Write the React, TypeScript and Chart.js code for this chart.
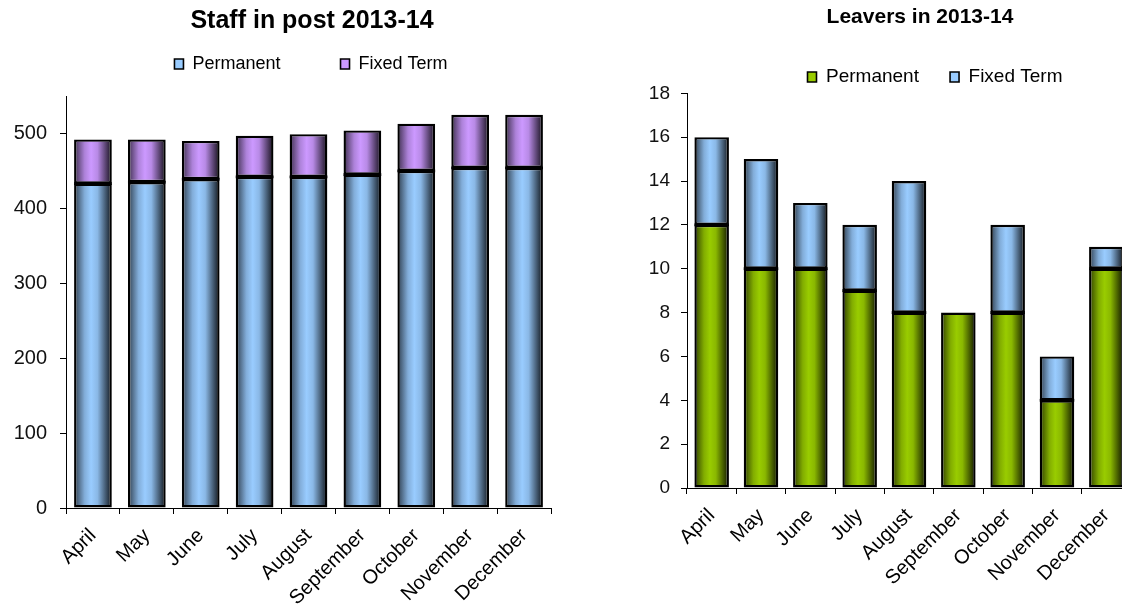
import React, { useEffect, useRef } from 'react';
import { Chart, registerables } from 'chart.js';

Chart.register(...registerables);
Chart.defaults.font.family = "'Liberation Sans', Arial, sans-serif";
Chart.defaults.color = '#000';

// ---- data ----
const months = ['April', 'May', 'June', 'July', 'August', 'September', 'October', 'November', 'December'];
const staffPermanent = [433, 435, 439, 442, 442, 445, 450, 454, 454];
const staffFixedTerm = [59, 57, 51, 55, 57, 59, 63, 71, 71];
const leaversPermanent = [12, 10, 10, 9, 8, 8, 8, 4, 10];
const leaversFixedTerm = [4, 5, 3, 3, 6, 0, 4, 2, 1];
const staffTicks = [0, 100, 200, 300, 400, 500];
const leaverTicks = [0, 2, 4, 6, 8, 10, 12, 14, 16, 18];
const seriesNames = ['Permanent', 'Fixed Term'];

const BLUE: [number, number, number] = [153, 204, 255];
const PURPLE: [number, number, number] = [204, 153, 255];
const GREEN: [number, number, number] = [153, 204, 0];

const BAR_PCT = 0.7;
const BORDER = 2.4;

const shade = (rgb: number[], f: number) =>
  `rgb(${rgb.map((c) => Math.max(0, Math.min(255, Math.round(c * f)))).join(',')})`;

function barGradient(rgb: [number, number, number]) {
  return (ctx: any) => {
    const chart = ctx.chart;
    const xs = chart.scales && chart.scales.x;
    if (ctx.type !== 'data' || !xs || !chart.chartArea || !xs.ticks || !xs.ticks.length) return shade(rgb, 1);
    const cx = xs.getPixelForValue(ctx.dataIndex);
    const w = (xs.width / xs.ticks.length) * BAR_PCT;
    const g = chart.ctx.createLinearGradient(cx - w / 2, 0, cx + w / 2, 0);
    g.addColorStop(0, shade(rgb, 0.3));
    g.addColorStop(0.28, shade(rgb, 0.85));
    g.addColorStop(0.45, shade(rgb, 1));
    g.addColorStop(0.62, shade(rgb, 0.9));
    g.addColorStop(1, shade(rgb, 0.1));
    return g;
  };
}

// Covers the anti-aliasing seam where the two stacked segments meet with one solid border.
const seamPlugin = {
  id: 'seam',
  afterDatasetsDraw(chart: any) {
    const meta = chart.getDatasetMeta(0);
    const fixedData = chart.data.datasets[1].data as number[];
    const ctx = chart.ctx;
    ctx.save();
    ctx.fillStyle = '#000';
    meta.data.forEach((el: any, i: number) => {
      if (!(fixedData[i] > 0)) return;
      const p = el.getProps(['x', 'y', 'width'], true);
      ctx.fillRect(p.x - p.width / 2, p.y - 1.4, p.width, 2.8);
    });
    ctx.restore();
  },
};

function placeBoxes(titleX: number, legendX: number, legendTextY: number) {
  return {
    id: 'placeBoxes',
    afterLayout(chart: any) {
      const t = chart.titleBlock;
      if (t) {
        const h = (t.right - t.left) / 2;
        t.left = titleX - h;
        t.right = titleX + h;
      }
      const l = chart.legend;
      if (l) {
        const h = (l.right - l.left) / 2;
        l.left = legendX - h;
        l.right = legendX + h;
        const pad = l.options.labels.padding;
        const fs = l.options.labels.font.size;
        const dy = legendTextY - (l.top + pad + fs / 2);
        l.top += dy;
        l.bottom += dy;
      }
    },
  };
}

type Spec = {
  title: string;
  titleSize: number;
  titlePadTop: number;
  titlePadBottom: number;
  titleX: number;
  legendX: number;
  legendTextY: number;
  legendSize: number;
  legendSpaces: number;
  perm: number[];
  fixed: number[];
  permColor: [number, number, number];
  fixedColor: [number, number, number];
  yMax: number;
  yTicks: number[];
  yTickSize: number;
  yTickPad: number;
  yWidth: number;
  xHeight: number;
  padRight: number;
  width: number;
  height: number;
};

function StackedChart({ spec, left }: { spec: Spec; left: number }) {
  const ref = useRef<HTMLCanvasElement>(null);
  useEffect(() => {
    if (!ref.current) return;
    const s = spec;
    const chart = new Chart(ref.current, {
      type: 'bar',
      data: {
        labels: months,
        datasets: [
          {
            label: seriesNames[0],
            data: s.perm,
            backgroundColor: barGradient(s.permColor),
            borderColor: '#000',
            borderWidth: BORDER,
            borderSkipped: false,
            inflateAmount: 0,
            barPercentage: BAR_PCT,
            categoryPercentage: 1,
            legendColor: shade(s.permColor, 1),
          } as any,
          {
            label: seriesNames[1],
            data: s.fixed,
            backgroundColor: barGradient(s.fixedColor),
            borderColor: '#000',
            borderWidth: BORDER,
            borderSkipped: false,
            inflateAmount: 0,
            barPercentage: BAR_PCT,
            categoryPercentage: 1,
            legendColor: shade(s.fixedColor, 1),
          } as any,
        ],
      },
      options: {
        responsive: false,
        animation: false,
        events: [],
        layout: { padding: { left: 0, right: s.padRight, top: 0, bottom: 0 } },
        plugins: {
          title: {
            display: true,
            text: s.title,
            color: '#000',
            font: { size: s.titleSize, weight: 'bold' },
            padding: { top: s.titlePadTop, bottom: s.titlePadBottom },
          },
          legend: {
            display: true,
            position: 'top',
            labels: {
              color: '#111',
              font: { size: s.legendSize },
              boxWidth: 9,
              boxHeight: 10,
              padding: 10,
              generateLabels: (ch: any) =>
                ch.data.datasets.map((ds: any, i: number) => ({
                  text: i === 0 ? ds.label + ' '.repeat(s.legendSpaces) : ds.label,
                  fillStyle: ds.legendColor,
                  strokeStyle: '#000',
                  lineWidth: 1.6,
                  hidden: false,
                  datasetIndex: i,
                })),
            },
          },
          tooltip: { enabled: false },
        },
        scales: {
          x: {
            stacked: true,
            offset: true,
            grid: { display: true, drawOnChartArea: false, drawTicks: true, tickLength: 6, color: '#000', offset: true },
            border: { display: true, color: '#000', width: 1 },
            ticks: { autoSkip: false, maxRotation: 45, minRotation: 45, font: { size: 20 }, color: '#000', padding: 10 },
            afterFit: (sc: any) => {
              sc.height = s.xHeight;
            },
          },
          y: {
            stacked: true,
            min: 0,
            max: s.yMax,
            grid: { display: true, drawOnChartArea: false, drawTicks: true, tickLength: 6, color: '#000' },
            border: { display: true, color: '#000', width: 1 },
            ticks: { font: { size: s.yTickSize }, color: '#111', padding: s.yTickPad },
            afterBuildTicks: (sc: any) => {
              sc.ticks = s.yTicks.map((v) => ({ value: v }));
            },
            afterFit: (sc: any) => {
              sc.width = s.yWidth;
            },
          },
        },
      },
      plugins: [placeBoxes(s.titleX, s.legendX, s.legendTextY), seamPlugin],
    } as any);
    return () => chart.destroy();
  }, [spec]);
  return (
    <canvas
      ref={ref}
      width={spec.width}
      height={spec.height}
      style={{ position: 'absolute', left, top: 0, width: spec.width, height: spec.height }}
    />
  );
}

const staffSpec: Spec = {
  title: 'Staff in post 2013-14',
  titleSize: 25,
  titlePadTop: 6,
  titlePadBottom: 22,
  titleX: 312,
  legendX: 311,
  legendTextY: 64,
  legendSize: 18,
  legendSpaces: 10,
  perm: staffPermanent,
  fixed: staffFixedTerm,
  permColor: BLUE,
  fixedColor: PURPLE,
  yMax: 550,
  yTicks: staffTicks,
  yTickSize: 20,
  yTickPad: 13,
  yWidth: 66,
  xHeight: 101,
  padRight: 9,
  width: 560,
  height: 609,
};

const leaversSpec: Spec = {
  title: 'Leavers in 2013-14',
  titleSize: 21,
  titlePadTop: 4.7,
  titlePadBottom: 24.4,
  titleX: 360,
  legendX: 375,
  legendTextY: 77,
  legendSize: 19,
  legendSpaces: 4,
  perm: leaversPermanent,
  fixed: leaversFixedTerm,
  permColor: GREEN,
  fixedColor: BLUE,
  yMax: 18,
  yTicks: leaverTicks,
  yTickSize: 19,
  yTickPad: 11,
  yWidth: 127,
  xHeight: 121,
  padRight: 9,
  width: 580,
  height: 609,
};

export default function App() {
  return (
    <div
      style={{
        position: 'absolute',
        left: 0,
        top: 0,
        width: 1122,
        height: 609,
        overflow: 'hidden',
        background: '#fff',
      }}
    >
      <StackedChart spec={staffSpec} left={0} />
      <StackedChart spec={leaversSpec} left={560} />
    </div>
  );
}
